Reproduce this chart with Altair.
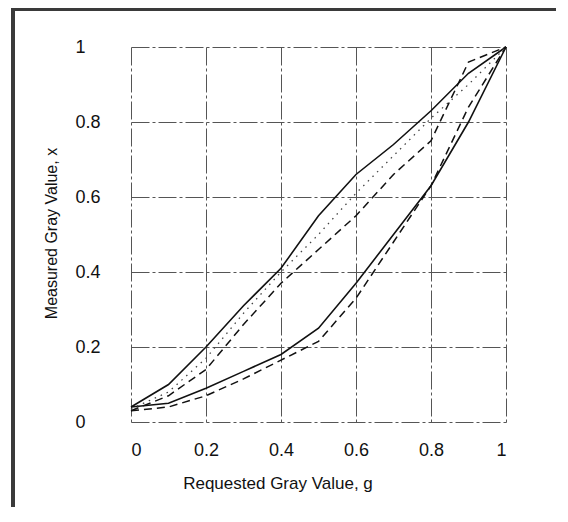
import altair as alt
import pandas as pd

g = [0.0, 0.1, 0.2, 0.3, 0.4, 0.5, 0.6, 0.7, 0.8, 0.9, 1.0]
upper_solid = [0.04, 0.10, 0.20, 0.31, 0.41, 0.55, 0.66, 0.74, 0.83, 0.93, 1.0]
upper_dashed = [0.03, 0.07, 0.14, 0.26, 0.37, 0.46, 0.55, 0.66, 0.75, 0.96, 1.0]
middle_dotted = [0.035, 0.08, 0.17, 0.29, 0.40, 0.50, 0.61, 0.71, 0.81, 0.90, 1.0]
lower_solid = [0.04, 0.05, 0.09, 0.135, 0.18, 0.25, 0.37, 0.50, 0.63, 0.80, 1.0]
lower_dashed = [0.03, 0.04, 0.07, 0.115, 0.165, 0.215, 0.33, 0.48, 0.63, 0.84, 1.0]
ticks = [0, 0.2, 0.4, 0.6, 0.8, 1]

series = {
    "upper_solid": upper_solid,
    "upper_dashed": upper_dashed,
    "middle_dotted": middle_dotted,
    "lower_solid": lower_solid,
    "lower_dashed": lower_dashed,
}
rows = []
for name, vals in series.items():
    for gi, xi in zip(g, vals):
        rows.append({"series": name, "g": gi, "x": xi})
df = pd.DataFrame(rows)

FONT = "Liberation Sans"

xenc = alt.X(
    "g:Q",
    scale=alt.Scale(domain=[0, 1], nice=False),
    axis=alt.Axis(
        values=ticks, format="~g", title="Requested Gray Value, g",
        grid=True, domain=False, ticks=False, tickSize=0,
        labelPadding=19, labelFontSize=18, labelFont=FONT, labelColor="#111",
        titleFont=FONT, titleFontSize=17, titleFontWeight="normal", titleColor="#111",
        titleX=146.5, titleY=61, titleBaseline="middle", titleAlign="center",
        gridColor="#555", gridDash=[18, 3, 3, 3], gridWidth=1,
    ),
)
yenc = alt.Y(
    "x:Q",
    scale=alt.Scale(domain=[0, 1], nice=False),
    axis=alt.Axis(
        values=ticks, format="~g", title="Measured Gray Value, x",
        grid=True, domain=False, ticks=False, tickSize=0,
        labelPadding=56, labelAlign="left", labelBaseline="middle",
        labelFontSize=18, labelFont=FONT, labelColor="#111",
        titleFont=FONT, titleFontSize=16, titleFontWeight="normal", titleColor="#111",
        titleAngle=-90, titleX=-80, titleY=186, titleBaseline="middle", titleAlign="center",
        gridColor="#555", gridDash=[18, 3, 3, 3], gridWidth=1,
    ),
)

base = alt.Chart(df)
solid = base.transform_filter(
    alt.FieldOneOfPredicate(field="series", oneOf=["upper_solid", "lower_solid"])
).mark_line(color="#111", strokeWidth=1.6).encode(x=xenc, y=yenc, detail="series:N")
dashed = base.transform_filter(
    alt.FieldOneOfPredicate(field="series", oneOf=["upper_dashed", "lower_dashed"])
).mark_line(color="#111", strokeWidth=1.5, strokeDash=[8, 5]).encode(x="g:Q", y="x:Q", detail="series:N")
dotted = base.transform_filter(
    alt.FieldEqualPredicate(field="series", equal="middle_dotted")
).mark_line(color="#444", strokeWidth=1.3, strokeDash=[1.5, 5]).encode(x="g:Q", y="x:Q")

frame_top = alt.Chart(df).mark_rule(color="#3a3a3a", strokeWidth=3).encode(
    x=alt.value(-120), x2=alt.value(437), y=alt.value(-37.5)
)
frame_left = alt.Chart(df).mark_rule(color="#3a3a3a", strokeWidth=4).encode(
    x=alt.value(-118), y=alt.value(-39), y2=alt.value(475)
)

chart = alt.layer(solid, dashed, dotted, frame_top, frame_left).properties(
    width=375, height=375,
    padding={"left": 123, "top": 39, "right": 50, "bottom": 85},
    autosize="none",
    background="white",
).configure_view(stroke=None)

chart.save("out.html", embed_options={"renderer": "svg", "actions": False})
